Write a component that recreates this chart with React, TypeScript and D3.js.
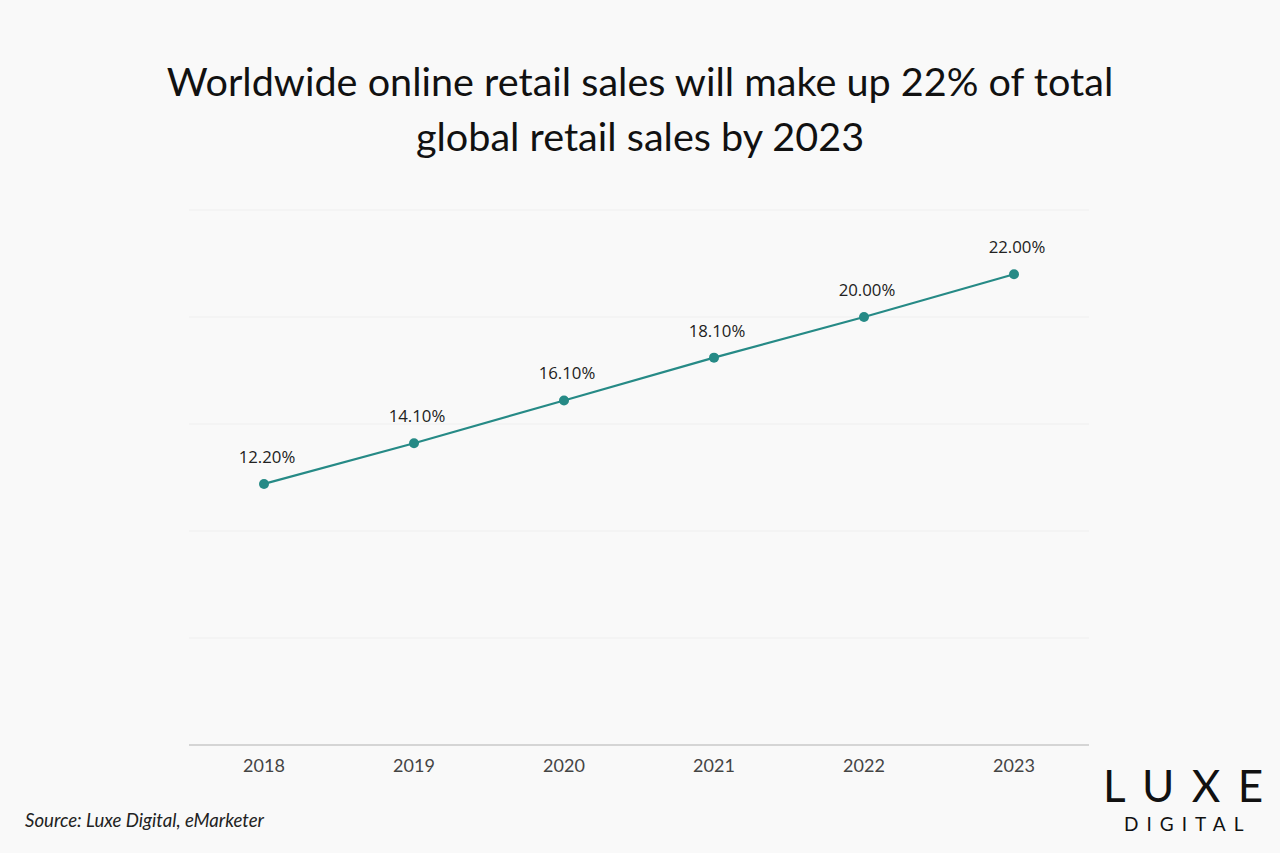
import React, { useEffect, useRef } from 'react';
import * as d3 from 'd3';

const years = ['2018', '2019', '2020', '2021', '2022', '2023'];
const shares = [12.2, 14.1, 16.1, 18.1, 20.0, 22.0];
const yTicks = [0, 5, 10, 15, 20, 25];

export default function App() {
  const ref = useRef<SVGSVGElement>(null);

  useEffect(() => {
    const w = 1280, h = 853;
    const m = { top: 210, right: 191, bottom: 108, left: 189 };
    const svg = d3.select(ref.current).attr('width', w).attr('height', h);
    svg.selectAll('*').remove();

    svg.append('rect').attr('width', w).attr('height', h).attr('fill', '#f9f9f9');

    const x = d3.scaleBand().domain(years).range([m.left, w - m.right]);
    const y = d3.scaleLinear().domain([0, 25]).range([h - m.bottom, m.top]);
    const cx = (d: string) => x(d)! + x.bandwidth() / 2;

    // title
    const title = svg.append('text')
      .attr('text-anchor', 'middle')
      .attr('font-family', 'Lato, sans-serif')
      .attr('font-size', 39.6)
      .attr('fill', '#111');
    title.append('tspan').attr('x', 640).attr('y', 96)
      .text('Worldwide online retail sales will make up 22% of total');
    title.append('tspan').attr('x', 640).attr('y', 151)
      .text('global retail sales by 2023');

    // gridlines
    svg.append('g').selectAll('line')
      .data(yTicks.filter(t => t > 0))
      .enter().append('line')
      .attr('x1', m.left).attr('x2', w - m.right)
      .attr('y1', d => y(d)).attr('y2', d => y(d))
      .attr('stroke', '#efefef').attr('stroke-width', 1);

    // x axis
    svg.append('line')
      .attr('x1', m.left).attr('x2', w - m.right)
      .attr('y1', y(0)).attr('y2', y(0))
      .attr('stroke', '#c8c8c8').attr('stroke-width', 1.5);

    svg.append('g').selectAll('text')
      .data(years)
      .enter().append('text')
      .attr('x', d => cx(d))
      .attr('y', y(0) + 27)
      .attr('text-anchor', 'middle')
      .attr('font-family', 'Lato, sans-serif')
      .attr('font-size', 18)
      .attr('fill', '#444')
      .text(d => d);

    // line + dots
    const pts = years.map((yr, i) => ({ yr, v: shares[i] }));
    svg.append('path')
      .datum(pts)
      .attr('d', d3.line<{ yr: string; v: number }>().x(d => cx(d.yr)).y(d => y(d.v)))
      .attr('fill', 'none')
      .attr('stroke', '#268a86')
      .attr('stroke-width', 2.2);

    svg.append('g').selectAll('circle')
      .data(pts)
      .enter().append('circle')
      .attr('cx', d => cx(d.yr))
      .attr('cy', d => y(d.v))
      .attr('r', 5)
      .attr('fill', '#268a86');

    svg.append('g').selectAll('text')
      .data(pts)
      .enter().append('text')
      .attr('x', d => cx(d.yr) + 3)
      .attr('y', d => y(d.v) - 21)
      .attr('text-anchor', 'middle')
      .attr('font-family', '"Open Sans", sans-serif')
      .attr('font-size', 16.8)
      .attr('fill', '#222')
      .text(d => d.v.toFixed(2) + '%');

    // source
    svg.append('text')
      .attr('x', 25).attr('y', 827)
      .attr('font-family', 'Lato, sans-serif')
      .attr('font-style', 'italic')
      .attr('font-size', 18.6)
      .attr('fill', '#222')
      .text('Source: Luxe Digital, eMarketer');

    // logo
    svg.append('text')
      .attr('x', 1103).attr('y', 802)
      .attr('font-family', 'Lato, sans-serif')
      .attr('font-size', 44)
      .attr('letter-spacing', 17.5)
      .attr('fill', '#111')
      .text('LUXE');
    svg.append('text')
      .attr('x', 1124).attr('y', 831)
      .attr('font-family', 'Lato, sans-serif')
      .attr('font-size', 19)
      .attr('letter-spacing', 8)
      .attr('fill', '#111')
      .text('DIGITAL');
  }, []);

  return <svg ref={ref} style={{ display: 'block', position: 'absolute', left: 0, top: 0 }}></svg>;
}
